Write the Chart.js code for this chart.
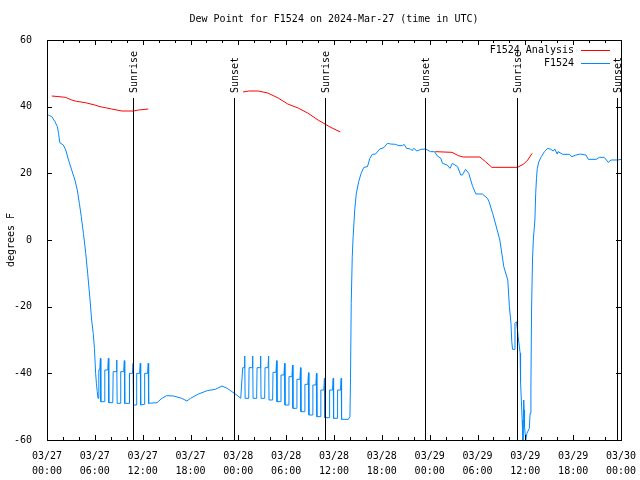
<!DOCTYPE html>
<html>
<head>
<meta charset="utf-8">
<script src="https://cdn.jsdelivr.net/npm/chart.js@4.4.1/dist/chart.umd.min.js"></script>
<style>
  html, body { margin: 0; padding: 0; background: #fff; }
</style>
</head>
<body>
<canvas id="dewChart" width="640" height="480"></canvas>
<script>
const chartTitle = 'Dew Point for F1524 on 2024-Mar-27 (time in UTC)';
const dayLabels = ['03/27', '03/28', '03/29', '03/30'];
const xTickHours = [0, 6, 12, 18, 24, 30, 36, 42, 48, 54, 60, 66, 72];
const yTicks = [-60, -40, -20, 0, 20, 40, 60];

const sunHours = [10.8, 23.4, 34.9, 47.4, 58.9, 71.5];
const sunLabels = ['Sunrise', 'Sunset', 'Sunrise', 'Sunset', 'Sunrise', 'Sunset'];

// [hours since 03/27 00:00 UTC, dew point F]; null = gap
const analysisPoints = [
  [0.6, 43.2], [1.5, 43], [2.3, 42.8], [3.1, 42], [3.7, 41.6], [4.8, 41.2], [6, 40.5],
  [6.65, 40], [7.3, 39.7], [8.1, 39.3], [9.4, 38.7], [10.8, 38.7], [11.5, 39], [12.7, 39.3],
  [18, null],
  [24.6, 44.4], [25.3, 44.7], [26.5, 44.7], [27.7, 44.1], [29, 42.6], [30.2, 40.8], [31.5, 39.6],
  [32.7, 38.1], [34, 36], [35.5, 33.9], [36.8, 32.4],
  [42, null],
  [48.7, 26.5], [50.8, 26.3], [51.6, 25.3], [52.2, 24.9], [54.3, 24.9], [55, 23.5], [55.8, 21.8],
  [59, 21.8], [59.8, 22.8], [60.3, 24], [60.85, 26]
];

const stationPoints = [
  [0.15, 37.5], [0.6, 37], [1.0, 35.5], [1.3, 34], [1.45, 32], [1.6, 29.2], [2.05, 28.5], [2.35, 27],
  [2.7, 24], [3.1, 21], [3.5, 18], [3.8, 15], [4.06, 11], [4.3, 7], [4.57, 2], [4.86, -4], [5.1, -10],
  [5.4, -18], [5.6, -24], [5.8, -28], [5.95, -32.5], [6.1, -40], [6.2, -43], [6.3, -45.5], [6.4, -47.5],
  [6.5, -39], [6.62, -39], [6.7, -35.5], [6.75, -48.5],
  [7.2, -48.5], [7.25, -39], [7.62, -39], [7.7, -35.5], [7.75, -48.8],
  [8.25, -48.8], [8.3, -39.5], [8.67, -39.5], [8.75, -36], [8.8, -49],
  [9.2, -49], [9.25, -39.5], [9.62, -39.5], [9.7, -36.2], [9.75, -49],
  [10.3, -49], [10.35, -40], [10.72, -40], [10.8, -37], [10.85, -49.5],
  [11.2, -49.5], [11.25, -40], [11.62, -40], [11.7, -37], [11.75, -49.5],
  [12.2, -49.3], [12.25, -40], [12.62, -40], [12.7, -37], [12.75, -49],
  [13.8, -48.8], [14.4, -47.5], [15.0, -46.7], [15.9, -46.8], [16.9, -47.5], [17.55, -48.3], [18.0, -47.5],
  [19.0, -46.2], [20.1, -45.2], [21.1, -44.8], [21.95, -43.8], [22.6, -44.5], [23.2, -45.5], [23.8, -46.5],
  [24.3, -47.5],
  [24.55, -38.3], [24.72, -38.3], [24.8, -34.8], [24.85, -47.5],
  [25.3, -47.5], [25.35, -38.3], [25.72, -38.3], [25.8, -34.8], [25.85, -47.5],
  [26.3, -47.5], [26.35, -38.3], [26.72, -38.3], [26.8, -34.8], [26.85, -47.5],
  [27.3, -47.5], [27.35, -38.3], [27.72, -38.3], [27.8, -34.8], [27.85, -48],
  [28.3, -48], [28.35, -39.7], [28.72, -39.7], [28.8, -36.2], [28.85, -48.5],
  [29.3, -48.5], [29.35, -40.5], [29.72, -40.5], [29.8, -37], [29.85, -49.5],
  [30.3, -49.5], [30.35, -41], [30.72, -41], [30.8, -37.5], [30.85, -50.5],
  [31.3, -50.5], [31.35, -41.8], [31.72, -41.8], [31.8, -38.3], [31.85, -51.5],
  [32.3, -51.5], [32.35, -43.3], [32.72, -43.3], [32.8, -39.8], [32.85, -52.5],
  [33.3, -52.5], [33.35, -43.5], [33.72, -43.5], [33.8, -40], [33.85, -53],
  [34.3, -53], [34.35, -45], [34.72, -45], [34.8, -41.5], [34.85, -53.3],
  [35.4, -53.3], [35.45, -45], [35.82, -45], [35.9, -41.5], [35.95, -53.5],
  [36.4, -53.5], [36.45, -45], [36.82, -45], [36.9, -41.5], [36.95, -53.8],
  [37.8, -53.8], [38.0, -53], [38.07, -41.5], [38.16, -19], [38.29, -5], [38.4, 1], [38.6, 9], [38.8, 14],
  [39.1, 17.5], [39.4, 20], [39.75, 21.8], [40.2, 22], [40.5, 24.5], [40.8, 25.7], [41.2, 25.8],
  [41.75, 27.3], [42.25, 27.7], [42.7, 29], [43.1, 28.8], [43.7, 28.7], [44.15, 28.3], [44.6, 28.3],
  [44.8, 28.7], [45.1, 27.5], [45.6, 27.3], [45.8, 26.8], [46.0, 27.5], [46.4, 26.7], [46.9, 27.2],
  [47.5, 27.3], [48.1, 26.5], [48.6, 26.5], [48.97, 25.2], [49.4, 24.5], [49.6, 23], [50.2, 22.5],
  [50.55, 21.5], [50.85, 23], [51.5, 22], [51.9, 19.5], [52.1, 19.5], [52.5, 21.2], [52.9, 20],
  [53.4, 16], [53.8, 13.8], [54.6, 13.8], [55.25, 12.5], [55.45, 11.5], [55.9, 8], [56.3, 4.5],
  [56.8, 0], [57.3, -8], [57.8, -12], [58.0, -20], [58.2, -25], [58.3, -30.5], [58.4, -32.8],
  [58.6, -32.8], [58.7, -25], [58.9, -24.5], [59.1, -29], [59.35, -34], [59.4, -42.5], [59.6, -54],
  [59.7, -60], [59.8, -48], [59.85, -51], [59.9, -56], [60.05, -60], [60.2, -58], [60.5, -56.5],
  [60.6, -52], [60.7, -44.5], [60.78, -21], [60.9, -6], [61.0, 0], [61.2, 6], [61.3, 14], [61.4, 18.5],
  [61.5, 21.5], [61.7, 23.5], [62.0, 25], [62.4, 26.5], [62.8, 27.5], [63.2, 27.2], [63.5, 26.7],
  [63.7, 27.3], [64.0, 25.8], [64.1, 26.5], [64.7, 25.7], [65.5, 25.7], [65.85, 25], [66.35, 25.5],
  [66.9, 25.8], [67.6, 25.5], [67.9, 24.2], [68.9, 24.2], [69.3, 24.8], [69.9, 24.8], [70.4, 23.3],
  [70.75, 24], [71.6, 24], [72, 24.2]
];

const FONT = "10px 'DejaVu Sans Mono', monospace";
Chart.defaults.font.family = "'DejaVu Sans Mono', monospace";
Chart.defaults.font.size = 10;
Chart.defaults.color = '#000';

function hourLabel(v) {
  const hh = String(v % 24).padStart(2, '0');
  return [dayLabels[Math.floor(v / 24)], hh + ':00'];
}

// gnuplot-style frame, inward ticks, sun lines, legend and title
const framePlugin = {
  id: 'frame',
  afterDatasetsDraw(chart) {
    const { ctx, chartArea: a, scales: { x, y } } = chart;
    ctx.save();
    ctx.strokeStyle = '#000';
    ctx.fillStyle = '#000';
    ctx.lineWidth = 1;
    ctx.font = FONT;

    sunHours.forEach((h, i) => {
      const px = Math.round(x.getPixelForValue(h)) + 0.5;
      ctx.beginPath();
      ctx.moveTo(px, a.top + 58);
      ctx.lineTo(px, a.bottom);
      ctx.stroke();
      ctx.save();
      ctx.translate(px + 1, a.top + 53);
      ctx.rotate(-Math.PI / 2);
      ctx.textAlign = 'left';
      ctx.textBaseline = 'middle';
      ctx.fillText(sunLabels[i], 0, 0);
      ctx.restore();
    });

    ctx.beginPath();
    for (let h = 0; h <= 72; h += 2) {
      const px = Math.round(x.getPixelForValue(h)) + 0.5;
      const len = h % 6 === 0 ? 5 : 3;
      ctx.moveTo(px, a.bottom); ctx.lineTo(px, a.bottom - len);
      ctx.moveTo(px, a.top); ctx.lineTo(px, a.top + len);
    }
    yTicks.forEach(v => {
      const py = Math.round(y.getPixelForValue(v)) + 0.5;
      ctx.moveTo(a.left, py); ctx.lineTo(a.left + 5, py);
      ctx.moveTo(a.right, py); ctx.lineTo(a.right - 5, py);
    });
    ctx.stroke();
    ctx.strokeRect(Math.round(a.left) + 0.5, Math.round(a.top) + 0.5,
      Math.round(a.right - a.left), Math.round(a.bottom - a.top));

    // legend
    ctx.textAlign = 'right';
    ctx.textBaseline = 'middle';
    chart.data.datasets.forEach((ds, i) => {
      const ly = a.top + 10 + i * 13 + 0.5;
      ctx.fillText(ds.label, a.right - 47, ly);
      ctx.strokeStyle = ds.borderColor;
      ctx.beginPath();
      ctx.moveTo(a.right - 40, ly);
      ctx.lineTo(a.right - 11, ly);
      ctx.stroke();
    });

    // title
    ctx.fillStyle = '#000';
    ctx.textAlign = 'center';
    ctx.fillText(chartTitle, (a.left + a.right) / 2, 19);
    ctx.restore();
  }
};

const dewCtx = document.getElementById('dewChart').getContext('2d');
new Chart(dewCtx, {
  type: 'line',
  data: {
    datasets: [{
      label: 'F1524 Analysis',
      data: analysisPoints.map(p => ({ x: p[0], y: p[1] })),
      borderColor: '#ff0000',
      borderWidth: 1,
      pointRadius: 0,
      spanGaps: false,
      tension: 0
    }, {
      label: 'F1524',
      data: stationPoints.map(p => ({ x: p[0], y: p[1] })),
      borderColor: '#0088ff',
      borderWidth: 1,
      pointRadius: 0,
      tension: 0
    }]
  },
  options: {
    responsive: false,
    animation: false,
    layout: { padding: { top: 40, right: 19, left: 0, bottom: 0 } },
    plugins: {
      legend: { display: false },
      tooltip: { enabled: false }
    },
    scales: {
      x: {
        type: 'linear',
        min: 0,
        max: 72,
        afterBuildTicks: s => { s.ticks = xTickHours.map(v => ({ value: v })); },
        afterFit: s => { s.height = 40; s.paddingLeft = 0; s.paddingRight = 0; },
        ticks: { autoSkip: false, maxRotation: 0, padding: 1, font: { lineHeight: 1.5 }, callback: hourLabel },
        grid: { display: false },
        border: { display: false }
      },
      y: {
        min: -60,
        max: 60,
        afterBuildTicks: s => { s.ticks = yTicks.map(v => ({ value: v })); },
        afterFit: s => { s.width = 47; },
        ticks: { padding: 7 },
        title: { display: true, text: 'degrees F', padding: { top: 5, bottom: 0 } },
        grid: { display: false },
        border: { display: false }
      }
    }
  },
  plugins: [framePlugin]
});
</script>
</body>
</html>
